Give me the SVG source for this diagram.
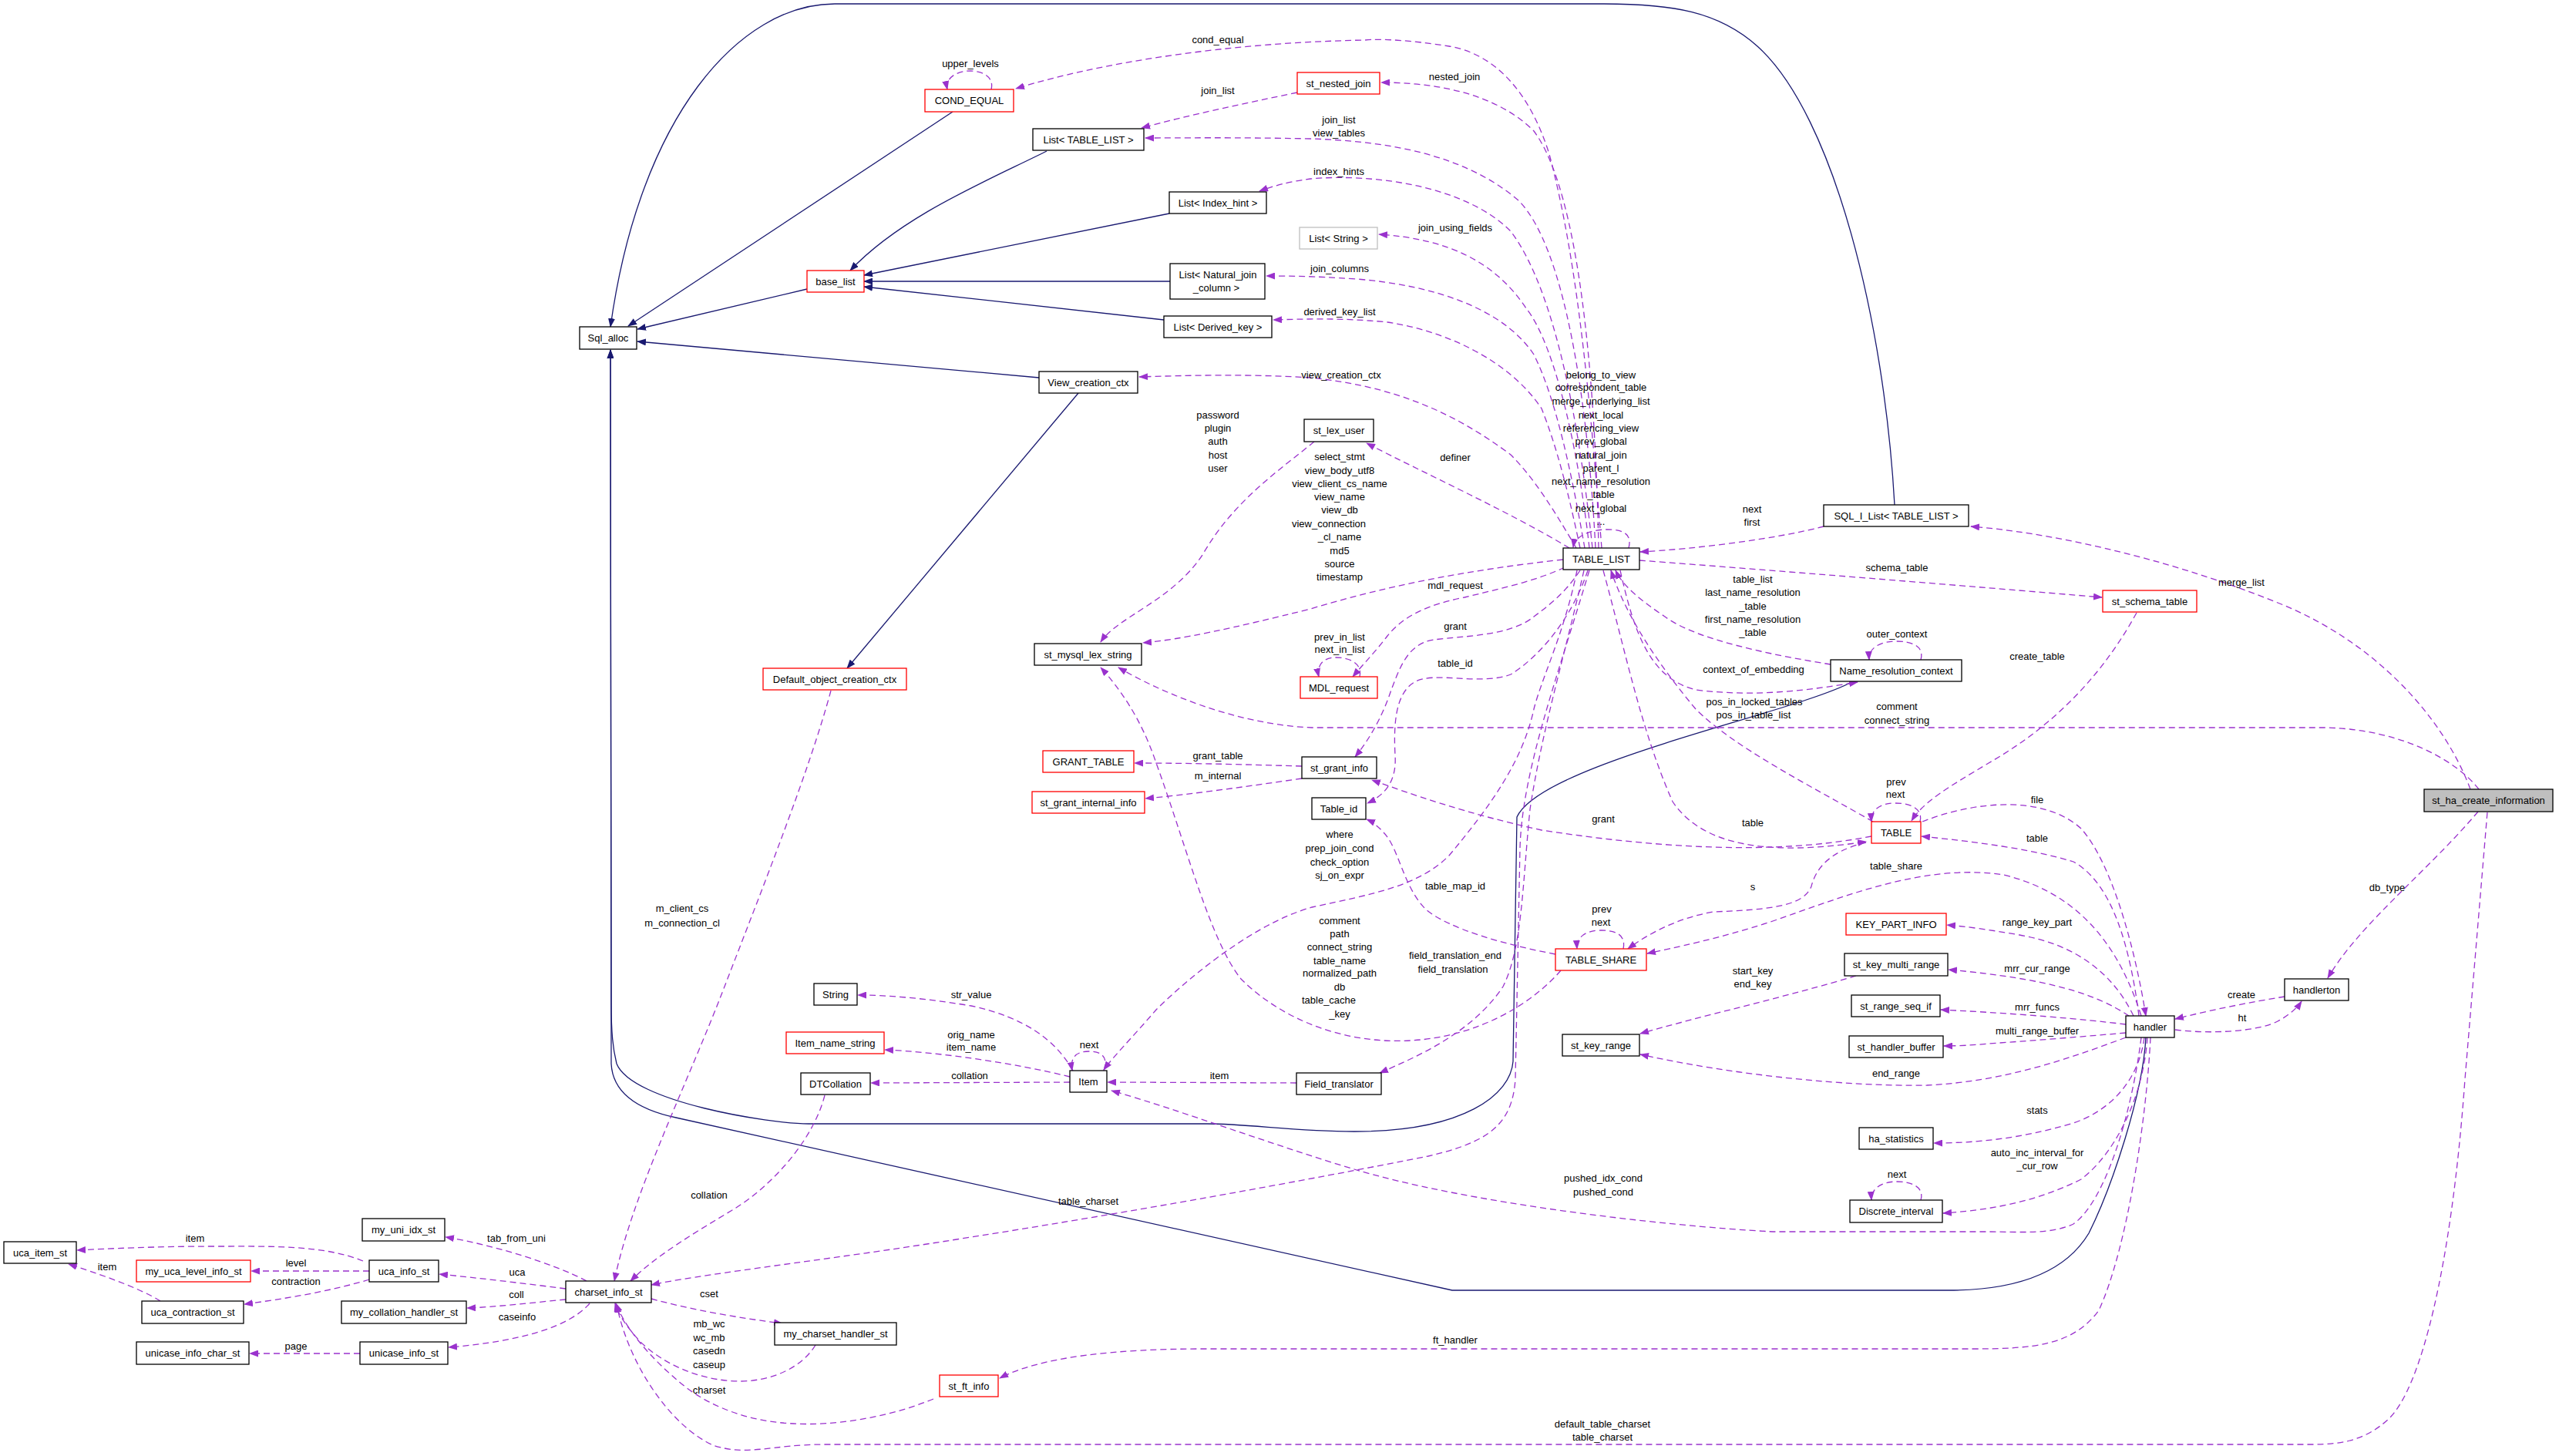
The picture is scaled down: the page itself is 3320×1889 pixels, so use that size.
<svg xmlns="http://www.w3.org/2000/svg" width="3320" height="1889" viewBox="0 0 3320 1889">
<style>
.n{fill:#fff;stroke:#000;stroke-width:1.3}
.r{fill:#fff;stroke:#ff0000;stroke-width:1.3}
.g{fill:#fff;stroke:#bfbfbf;stroke-width:1.3}
.f{fill:#bfbfbf;stroke:#000;stroke-width:1.3}
text{font-family:"Liberation Sans",Arial,Helvetica,sans-serif;font-size:13px;fill:#000;text-anchor:middle}
.e{fill:none;stroke:#9a32cd;stroke-width:1.3;stroke-dasharray:8,5;marker-end:url(#ap)}
.i{fill:none;stroke:#191970;stroke-width:1.3;marker-end:url(#an)}
</style>
<defs>
<marker id="ap" markerUnits="userSpaceOnUse" viewBox="0 0 12 9" markerWidth="12" markerHeight="9" refX="11" refY="4.5" orient="auto"><path d="M0,0 L12,4.5 L0,9 z" fill="#9a32cd"/></marker>
<marker id="an" markerUnits="userSpaceOnUse" viewBox="0 0 12 9" markerWidth="12" markerHeight="9" refX="11" refY="4.5" orient="auto"><path d="M0,0 L12,4.5 L0,9 z" fill="#191970"/></marker>
</defs>
<rect width="3320" height="1889" fill="#fff"/>
<g id="connectors">
<path class="i" d="M2458,655 C2445,420 2380,150 2280,60 C2230,15 2170,5 2081,5 L1083,5 C960,5 830,150 792,424"/>
<path class="i" d="M1236,145 L815,423"/>
<path class="i" d="M1047,375 L827,427"/>
<path class="i" d="M1348,490 L827,443"/>
<path class="i" d="M1358,196 C1280,235 1170,280 1103,351"/>
<path class="i" d="M1517,277 L1121,357"/>
<path class="i" d="M1518,365 L1121,365"/>
<path class="i" d="M1510,415 L1121,372"/>
<path class="i" d="M1399,510 L1099,867"/>
<path class="i" d="M2404,884 C2330,925 2000,990 1968,1060 L1963,1377 C1960,1420 1900,1468 1757,1468 C1680,1468 1620,1458 1566,1458 L1049,1458 C1000,1458 820,1430 800,1380 C795,1360 793,1340 793,1300 L792,454"/>
<path class="i" d="M2784,1346 C2780,1420 2740,1540 2710,1600 C2680,1650 2620,1674 2528,1674 L1884,1674 L877,1450 C830,1440 795,1420 793,1380 L792,454"/>
<path class="e" d="M2078,711 C2065,550 2050,350 2010,200 C1985,120 1940,70 1880,60 C1830,52 1790,50 1771,52 C1600,55 1430,80 1318,115"/>
<path class="e" d="M1286,116 C1290,100 1275,92 1259,92 C1240,92 1226,102 1229,116"/>
<path class="e" d="M2074,711 C2070,500 2050,250 1990,170 C1940,120 1860,107 1792,107"/>
<path class="e" d="M1683,120 C1610,135 1540,150 1481,166"/>
<path class="e" d="M2070,711 C2060,520 2030,320 1970,260 C1900,200 1800,183 1700,180 C1600,178 1530,179 1486,179"/>
<path class="e" d="M2066,711 C2050,560 2020,380 1960,300 C1900,240 1780,225 1700,232 C1670,236 1650,242 1634,248"/>
<path class="e" d="M2062,711 C2050,600 2020,450 1980,400 C1940,340 1880,310 1789,304"/>
<path class="e" d="M2056,711 C2040,620 2020,520 1990,460 C1950,400 1860,370 1760,362 C1700,358 1670,358 1643,358"/>
<path class="e" d="M2050,711 C2035,640 2020,580 2000,530 C1960,470 1880,430 1800,418 C1740,412 1690,414 1652,415"/>
<path class="e" d="M2045,711 C2015,660 1990,620 1960,590 C1880,530 1800,500 1700,490 C1620,485 1540,487 1478,489"/>
<path class="e" d="M2113,711 C2118,692 2105,687 2085,687 C2062,687 2043,696 2041,710"/>
<path class="e" d="M2036,711 C1960,665 1850,615 1773,575"/>
<path class="e" d="M1705,573 C1660,610 1600,650 1560,720 C1520,780 1450,800 1428,833"/>
<path class="e" d="M2028,726 C1900,740 1800,760 1700,790 C1600,815 1530,830 1483,834"/>
<path class="e" d="M3216,1024 C3190,990 3120,946 3016,944 L1702,944 C1600,940 1500,895 1451,866"/>
<path class="e" d="M3205,1024 C3170,930 3080,830 2950,780 C2800,720 2650,690 2557,683"/>
<path class="e" d="M2366,683 C2300,700 2200,712 2128,716"/>
<path class="e" d="M2127,727 C2300,740 2550,760 2727,775"/>
<path class="e" d="M2772,795 C2720,890 2650,950 2580,990 C2530,1020 2495,1040 2480,1065"/>
<path class="e" d="M2375,862 C2300,850 2200,830 2160,800 C2130,780 2105,760 2096,740"/>
<path class="e" d="M2102,740 C2120,820 2140,880 2200,895 C2280,905 2350,895 2410,885"/>
<path class="e" d="M2492,856 C2497,838 2480,832 2460,832 C2440,832 2424,840 2425,856"/>
<path class="e" d="M2430,1066 C2350,1020 2250,970 2200,920 C2150,860 2110,800 2090,740"/>
<path class="e" d="M2080,740 C2110,850 2130,950 2170,1040 C2210,1100 2300,1110 2421,1092"/>
<path class="e" d="M2030,736 C1990,755 1940,765 1900,775 C1850,785 1820,800 1800,825 C1785,845 1770,860 1755,878"/>
<path class="e" d="M1764,878 C1768,860 1750,853 1733,853 C1715,853 1708,865 1711,878"/>
<path class="e" d="M2050,740 C2030,770 2010,785 1990,800 C1960,825 1900,825 1860,830 C1825,835 1815,870 1805,895 C1795,925 1780,955 1758,982"/>
<path class="e" d="M2060,740 C2040,800 2000,850 1960,875 C1920,890 1860,870 1835,885 C1810,900 1808,940 1810,980 C1812,1010 1800,1030 1774,1042"/>
<path class="e" d="M2046,740 C2030,820 2000,880 1990,920 C1975,990 1930,1050 1880,1110 C1840,1150 1780,1160 1702,1177 C1620,1200 1530,1280 1500,1310 C1470,1345 1445,1370 1432,1388"/>
<path class="e" d="M2055,740 C2030,850 2000,950 1985,1050 C1975,1150 1975,1230 1950,1280 C1910,1340 1840,1370 1790,1392"/>
<path class="e" d="M2062,740 C2020,880 1975,1000 1972,1100 L1966,1400 C1962,1460 1930,1482 1853,1500 C1700,1530 1470,1573 1183,1617 C1050,1637 900,1655 845,1667"/>
<path class="e" d="M1689,994 C1620,992 1550,990 1472,990"/>
<path class="e" d="M1689,1010 C1620,1020 1550,1030 1486,1036"/>
<path class="e" d="M2428,1085 C2300,1110 2150,1100 2000,1077 C1900,1055 1830,1030 1780,1012"/>
<path class="e" d="M2491,1066 C2495,1050 2480,1042 2459,1042 C2440,1042 2427,1050 2428,1066"/>
<path class="e" d="M2421,1093 C2370,1105 2355,1130 2350,1150 C2340,1175 2300,1180 2223,1183 C2180,1190 2140,1210 2112,1231"/>
<path class="e" d="M2106,1231 C2110,1212 2095,1207 2077,1207 C2058,1207 2045,1215 2046,1231"/>
<path class="e" d="M2778,1318 C2750,1230 2700,1160 2600,1135 C2500,1120 2400,1160 2300,1195 C2230,1218 2170,1230 2137,1237"/>
<path class="e" d="M2494,1066 C2560,1040 2650,1030 2700,1075 C2740,1120 2770,1230 2784,1318"/>
<path class="e" d="M2775,1318 C2760,1200 2730,1140 2690,1118 C2630,1100 2560,1092 2493,1085"/>
<path class="e" d="M2768,1318 C2740,1260 2690,1225 2620,1213 C2580,1206 2550,1202 2526,1200"/>
<path class="e" d="M2762,1318 C2720,1290 2660,1270 2528,1258"/>
<path class="e" d="M2758,1329 C2700,1322 2620,1315 2518,1310"/>
<path class="e" d="M2758,1340 C2700,1345 2640,1350 2580,1354 C2560,1356 2540,1357 2522,1357"/>
<path class="e" d="M2408,1266 C2330,1290 2200,1320 2128,1341"/>
<path class="e" d="M2758,1346 C2680,1375 2600,1403 2500,1408 C2400,1410 2250,1395 2128,1368"/>
<path class="e" d="M2018,1238 C1950,1225 1880,1205 1850,1180 C1820,1150 1815,1100 1795,1080 C1788,1072 1780,1066 1773,1063"/>
<path class="e" d="M2025,1259 C1990,1300 1920,1345 1830,1350 C1740,1355 1660,1320 1610,1270 C1570,1220 1540,1100 1500,990 C1480,930 1450,890 1428,866"/>
<path class="e" d="M2964,1293 C2920,1300 2870,1310 2822,1322"/>
<path class="e" d="M2822,1336 C2870,1342 2930,1338 2955,1325 C2970,1317 2980,1308 2986,1299"/>
<path class="e" d="M3215,1053 C3150,1130 3060,1200 3020,1269"/>
<path class="e" d="M3227,1054 L3198,1400 C3180,1650 3140,1800 3100,1840 C3070,1868 3040,1874 3000,1874 L1070,1874 C1000,1874 970,1890 925,1875 C870,1850 815,1770 800,1692"/>
<path class="e" d="M2790,1346 C2785,1450 2760,1620 2723,1700 C2690,1745 2640,1750 2560,1750 L1560,1750 C1450,1750 1350,1760 1297,1788"/>
<path class="e" d="M2778,1346 C2765,1450 2730,1560 2690,1588 C2660,1602 2620,1598 2580,1598 L2300,1598 C2150,1590 1900,1560 1757,1517 C1650,1485 1530,1440 1442,1415"/>
<path class="e" d="M2782,1346 C2775,1400 2740,1440 2690,1457 C2620,1478 2560,1483 2509,1483"/>
<path class="e" d="M2786,1346 C2780,1430 2740,1500 2700,1530 C2640,1560 2580,1570 2521,1574"/>
<path class="e" d="M2492,1557 C2497,1540 2480,1533 2461,1533 C2440,1533 2427,1543 2428,1557"/>
<path class="e" d="M1392,1389 C1370,1350 1330,1320 1260,1305 C1200,1295 1150,1291 1113,1291"/>
<path class="e" d="M1388,1397 C1320,1380 1220,1365 1148,1362"/>
<path class="e" d="M1388,1404 L1130,1405"/>
<path class="e" d="M1682,1405 L1437,1404"/>
<path class="e" d="M1432,1389 C1438,1372 1430,1364 1413,1364 C1396,1364 1388,1372 1391,1389"/>
<path class="e" d="M1078,896 C1050,1000 990,1150 940,1280 C890,1410 820,1550 797,1662"/>
<path class="e" d="M1070,1421 C1055,1480 1000,1540 950,1570 C900,1600 850,1630 818,1662"/>
<path class="e" d="M845,1685 C900,1700 960,1710 1015,1717"/>
<path class="e" d="M1058,1745 C1040,1775 1000,1792 960,1792 C910,1792 860,1770 830,1740 C812,1720 802,1705 798,1691"/>
<path class="e" d="M1211,1815 C1150,1840 1080,1850 1030,1847 C980,1845 930,1830 890,1800 C840,1760 810,1720 799,1691"/>
<path class="e" d="M761,1662 C720,1640 640,1615 578,1605"/>
<path class="e" d="M734,1672 C680,1665 620,1658 570,1653"/>
<path class="e" d="M734,1686 C690,1690 640,1696 606,1697"/>
<path class="e" d="M765,1691 C740,1720 680,1740 582,1748"/>
<path class="e" d="M471,1636 C420,1615 350,1617 281,1617 C200,1617 140,1620 100,1622"/>
<path class="e" d="M479,1649 L326,1649"/>
<path class="e" d="M479,1660 C430,1675 370,1685 317,1692"/>
<path class="e" d="M208,1688 C180,1670 120,1650 89,1640"/>
<path class="e" d="M467,1756 L324,1756"/>
<g id="edge-labels">
<text x="1580" y="56">cond_equal</text>
<text x="1259" y="87">upper_levels</text>
<text x="1580" y="122">join_list</text>
<text x="1887" y="104">nested_join</text>
<text x="1737" y="160">join_list</text>
<text x="1737" y="177">view_tables</text>
<text x="1737" y="227">index_hints</text>
<text x="1888" y="300">join_using_fields</text>
<text x="1738" y="353">join_columns</text>
<text x="1738" y="409">derived_key_list</text>
<text x="1740" y="491">view_creation_ctx</text>
<text x="2077" y="491">belong_to_view</text>
<text x="2077" y="507">correspondent_table</text>
<text x="2077" y="525">merge_underlying_list</text>
<text x="2077" y="543">next_local</text>
<text x="2077" y="560">referencing_view</text>
<text x="2077" y="577">prev_global</text>
<text x="2077" y="595">natural_join</text>
<text x="2077" y="612">parent_l</text>
<text x="2077" y="629">next_name_resolution</text>
<text x="2077" y="646">_table</text>
<text x="2077" y="664">next_global</text>
<text x="2077" y="681">...</text>
<text x="1580" y="543">password</text>
<text x="1580" y="560">plugin</text>
<text x="1580" y="577">auth</text>
<text x="1580" y="595">host</text>
<text x="1580" y="612">user</text>
<text x="1888" y="598">definer</text>
<text x="1738" y="597">select_stmt</text>
<text x="1738" y="615">view_body_utf8</text>
<text x="1738" y="632">view_client_cs_name</text>
<text x="1738" y="649">view_name</text>
<text x="1738" y="666">view_db</text>
<text x="1724" y="684">view_connection</text>
<text x="1738" y="701">_cl_name</text>
<text x="1738" y="719">md5</text>
<text x="1738" y="736">source</text>
<text x="1738" y="753">timestamp</text>
<text x="2273" y="665">next</text>
<text x="2273" y="682">first</text>
<text x="2461" y="741">schema_table</text>
<text x="2908" y="760">merge_list</text>
<text x="2274" y="756">table_list</text>
<text x="2274" y="773">last_name_resolution</text>
<text x="2274" y="791">_table</text>
<text x="2274" y="808">first_name_resolution</text>
<text x="2274" y="825">_table</text>
<text x="1888" y="764">mdl_request</text>
<text x="2461" y="827">outer_context</text>
<text x="1738" y="831">prev_in_list</text>
<text x="1738" y="847">next_in_list</text>
<text x="2643" y="856">create_table</text>
<text x="1888" y="817">grant</text>
<text x="1888" y="865">table_id</text>
<text x="2275" y="873">context_of_embedding</text>
<text x="2276" y="915">pos_in_locked_tables</text>
<text x="2275" y="932">pos_in_table_list</text>
<text x="2461" y="921">comment</text>
<text x="2461" y="939">connect_string</text>
<text x="1580" y="985">grant_table</text>
<text x="1580" y="1011">m_internal</text>
<text x="2460" y="1019">prev</text>
<text x="2459" y="1035">next</text>
<text x="2643" y="1042">file</text>
<text x="2080" y="1067">grant</text>
<text x="2274" y="1072">table</text>
<text x="2643" y="1092">table</text>
<text x="1738" y="1087">where</text>
<text x="1738" y="1105">prep_join_cond</text>
<text x="1738" y="1123">check_option</text>
<text x="1738" y="1140">sj_on_expr</text>
<text x="2460" y="1128">table_share</text>
<text x="1888" y="1154">table_map_id</text>
<text x="2274" y="1155">s</text>
<text x="3097" y="1156">db_type</text>
<text x="885" y="1183">m_client_cs</text>
<text x="885" y="1202">m_connection_cl</text>
<text x="2078" y="1184">prev</text>
<text x="2077" y="1201">next</text>
<text x="1738" y="1199">comment</text>
<text x="1738" y="1216">path</text>
<text x="1738" y="1233">connect_string</text>
<text x="1738" y="1251">table_name</text>
<text x="1738" y="1267">normalized_path</text>
<text x="1738" y="1285">db</text>
<text x="1724" y="1302">table_cache</text>
<text x="1738" y="1320">_key</text>
<text x="1888" y="1244">field_translation_end</text>
<text x="1885" y="1262">field_translation</text>
<text x="2643" y="1201">range_key_part</text>
<text x="2643" y="1261">mrr_cur_range</text>
<text x="2274" y="1264">start_key</text>
<text x="2274" y="1281">end_key</text>
<text x="1260" y="1295">str_value</text>
<text x="2908" y="1295">create</text>
<text x="2643" y="1311">mrr_funcs</text>
<text x="2909" y="1325">ht</text>
<text x="2643" y="1342">multi_range_buffer</text>
<text x="1260" y="1347">orig_name</text>
<text x="1260" y="1363">item_name</text>
<text x="1413" y="1360">next</text>
<text x="1258" y="1400">collation</text>
<text x="1582" y="1400">item</text>
<text x="2460" y="1397">end_range</text>
<text x="2643" y="1445">stats</text>
<text x="2643" y="1500">auto_inc_interval_for</text>
<text x="2643" y="1517">_cur_row</text>
<text x="2461" y="1528">next</text>
<text x="2080" y="1533">pushed_idx_cond</text>
<text x="2080" y="1551">pushed_cond</text>
<text x="920" y="1555">collation</text>
<text x="1412" y="1563">table_charset</text>
<text x="670" y="1611">tab_from_uni</text>
<text x="253" y="1611">item</text>
<text x="384" y="1643">level</text>
<text x="139" y="1648">item</text>
<text x="671" y="1655">uca</text>
<text x="384" y="1667">contraction</text>
<text x="920" y="1683">cset</text>
<text x="670" y="1684">coll</text>
<text x="671" y="1713">caseinfo</text>
<text x="920" y="1722">mb_wc</text>
<text x="920" y="1740">wc_mb</text>
<text x="920" y="1757">casedn</text>
<text x="920" y="1775">caseup</text>
<text x="1888" y="1743">ft_handler</text>
<text x="384" y="1751">page</text>
<text x="920" y="1808">charset</text>
<text x="2079" y="1852">default_table_charset</text>
<text x="2079" y="1869">table_charset</text>
</g>
</g>
<g id="node-Sql_alloc"><rect class="n" x="752" y="424" width="74" height="29"/><text x="789" y="443">Sql_alloc</text></g>
<g id="node-COND_EQUAL"><rect class="r" x="1200" y="116" width="115" height="29"/><text x="1257.5" y="135">COND_EQUAL</text></g>
<g id="node-st_nested_join"><rect class="r" x="1683" y="94" width="107" height="28"/><text x="1736.5" y="112.5">st_nested_join</text></g>
<g id="node-List_TABLE_LIST"><rect class="n" x="1340" y="167" width="144" height="28"/><text x="1412" y="185.5">List&lt; TABLE_LIST &gt;</text></g>
<g id="node-List_Index_hint"><rect class="n" x="1517" y="249" width="126" height="28"/><text x="1580" y="267.5">List&lt; Index_hint &gt;</text></g>
<g id="node-List_String"><rect class="g" x="1686" y="295" width="101" height="28"/><text x="1736.5" y="313.5">List&lt; String &gt;</text></g>
<g id="node-List_Natural_join_column"><rect class="n" x="1518" y="342" width="123" height="46"/><text x="1580" y="360.5">List&lt; Natural_join</text><text x="1578" y="377.5">_column &gt;</text></g>
<g id="node-List_Derived_key"><rect class="n" x="1510" y="410" width="140" height="28"/><text x="1580" y="428.5">List&lt; Derived_key &gt;</text></g>
<g id="node-base_list"><rect class="r" x="1047" y="351" width="74" height="28"/><text x="1084" y="369.5">base_list</text></g>
<g id="node-View_creation_ctx"><rect class="n" x="1348" y="482" width="128" height="28"/><text x="1412" y="500.5">View_creation_ctx</text></g>
<g id="node-st_lex_user"><rect class="n" x="1692" y="544" width="90" height="29"/><text x="1737" y="563">st_lex_user</text></g>
<g id="node-TABLE_LIST"><rect class="n" x="2028" y="711" width="99" height="28"/><text x="2077.5" y="729.5">TABLE_LIST</text></g>
<g id="node-SQL_I_List"><rect class="n" x="2366" y="655" width="188" height="28"/><text x="2460" y="673.5">SQL_I_List&lt; TABLE_LIST &gt;</text></g>
<g id="node-Name_resolution_context"><rect class="n" x="2375" y="856" width="170" height="28"/><text x="2460" y="874.5">Name_resolution_context</text></g>
<g id="node-MDL_request"><rect class="r" x="1687" y="878" width="100" height="28"/><text x="1737" y="896.5">MDL_request</text></g>
<g id="node-st_mysql_lex_string"><rect class="n" x="1342" y="835" width="139" height="28"/><text x="1411.5" y="853.5">st_mysql_lex_string</text></g>
<g id="node-Default_object_creation_ctx"><rect class="r" x="990" y="867" width="186" height="28"/><text x="1083" y="885.5">Default_object_creation_ctx</text></g>
<g id="node-GRANT_TABLE"><rect class="r" x="1353" y="974" width="118" height="28"/><text x="1412" y="992.5">GRANT_TABLE</text></g>
<g id="node-st_grant_internal_info"><rect class="r" x="1339" y="1027" width="146" height="28"/><text x="1412" y="1045.5">st_grant_internal_info</text></g>
<g id="node-st_grant_info"><rect class="n" x="1689" y="982" width="97" height="28"/><text x="1737.5" y="1000.5">st_grant_info</text></g>
<g id="node-Table_id"><rect class="n" x="1702" y="1035" width="70" height="28"/><text x="1737" y="1053.5">Table_id</text></g>
<g id="node-String"><rect class="n" x="1056" y="1276" width="56" height="28"/><text x="1084" y="1294.5">String</text></g>
<g id="node-Item_name_string"><rect class="r" x="1020" y="1339" width="127" height="28"/><text x="1083.5" y="1357.5">Item_name_string</text></g>
<g id="node-DTCollation"><rect class="n" x="1039" y="1392" width="90" height="28"/><text x="1084" y="1410.5">DTCollation</text></g>
<g id="node-Item"><rect class="n" x="1388" y="1389" width="48" height="28"/><text x="1412" y="1407.5">Item</text></g>
<g id="node-Field_translator"><rect class="n" x="1682" y="1392" width="110" height="28"/><text x="1737" y="1410.5">Field_translator</text></g>
<g id="node-TABLE"><rect class="r" x="2428" y="1066" width="64" height="28"/><text x="2460" y="1084.5">TABLE</text></g>
<g id="node-TABLE_SHARE"><rect class="r" x="2018" y="1231" width="118" height="28"/><text x="2077" y="1249.5">TABLE_SHARE</text></g>
<g id="node-KEY_PART_INFO"><rect class="r" x="2395" y="1185" width="130" height="28"/><text x="2460" y="1203.5">KEY_PART_INFO</text></g>
<g id="node-st_key_multi_range"><rect class="n" x="2393" y="1237" width="134" height="29"/><text x="2460" y="1256">st_key_multi_range</text></g>
<g id="node-st_range_seq_if"><rect class="n" x="2402" y="1291" width="115" height="28"/><text x="2459.5" y="1309.5">st_range_seq_if</text></g>
<g id="node-st_handler_buffer"><rect class="n" x="2399" y="1344" width="122" height="28"/><text x="2460" y="1362.5">st_handler_buffer</text></g>
<g id="node-st_key_range"><rect class="n" x="2027" y="1342" width="100" height="28"/><text x="2077" y="1360.5">st_key_range</text></g>
<g id="node-handler"><rect class="n" x="2758" y="1318" width="63" height="28"/><text x="2789.5" y="1336.5">handler</text></g>
<g id="node-handlerton"><rect class="n" x="2964" y="1270" width="83" height="28"/><text x="3005.5" y="1288.5">handlerton</text></g>
<g id="node-st_ha_create_information"><rect class="f" x="3145" y="1024" width="167" height="29"/><text x="3228.5" y="1043">st_ha_create_information</text></g>
<g id="node-st_schema_table"><rect class="r" x="2728" y="766" width="122" height="28"/><text x="2789" y="784.5">st_schema_table</text></g>
<g id="node-ha_statistics"><rect class="n" x="2412" y="1463" width="96" height="28"/><text x="2460" y="1481.5">ha_statistics</text></g>
<g id="node-Discrete_interval"><rect class="n" x="2400" y="1557" width="120" height="29"/><text x="2460" y="1576">Discrete_interval</text></g>
<g id="node-uca_item_st"><rect class="n" x="5" y="1611" width="94" height="28"/><text x="52" y="1629.5">uca_item_st</text></g>
<g id="node-my_uca_level_info_st"><rect class="r" x="177" y="1635" width="148" height="28"/><text x="251" y="1653.5">my_uca_level_info_st</text></g>
<g id="node-uca_contraction_st"><rect class="n" x="184" y="1688" width="132" height="29"/><text x="250" y="1707">uca_contraction_st</text></g>
<g id="node-unicase_info_char_st"><rect class="n" x="177" y="1741" width="146" height="29"/><text x="250" y="1760">unicase_info_char_st</text></g>
<g id="node-my_uni_idx_st"><rect class="n" x="470" y="1581" width="107" height="29"/><text x="523.5" y="1600">my_uni_idx_st</text></g>
<g id="node-uca_info_st"><rect class="n" x="479" y="1635" width="90" height="28"/><text x="524" y="1653.5">uca_info_st</text></g>
<g id="node-my_collation_handler_st"><rect class="n" x="443" y="1688" width="162" height="29"/><text x="524" y="1707">my_collation_handler_st</text></g>
<g id="node-unicase_info_st"><rect class="n" x="467" y="1741" width="114" height="29"/><text x="524" y="1760">unicase_info_st</text></g>
<g id="node-charset_info_st"><rect class="n" x="734" y="1662" width="111" height="28"/><text x="789.5" y="1680.5">charset_info_st</text></g>
<g id="node-my_charset_handler_st"><rect class="n" x="1005" y="1716" width="158" height="29"/><text x="1084" y="1735">my_charset_handler_st</text></g>
<g id="node-st_ft_info"><rect class="r" x="1219" y="1784" width="76" height="28"/><text x="1257" y="1802.5">st_ft_info</text></g>
</svg>
